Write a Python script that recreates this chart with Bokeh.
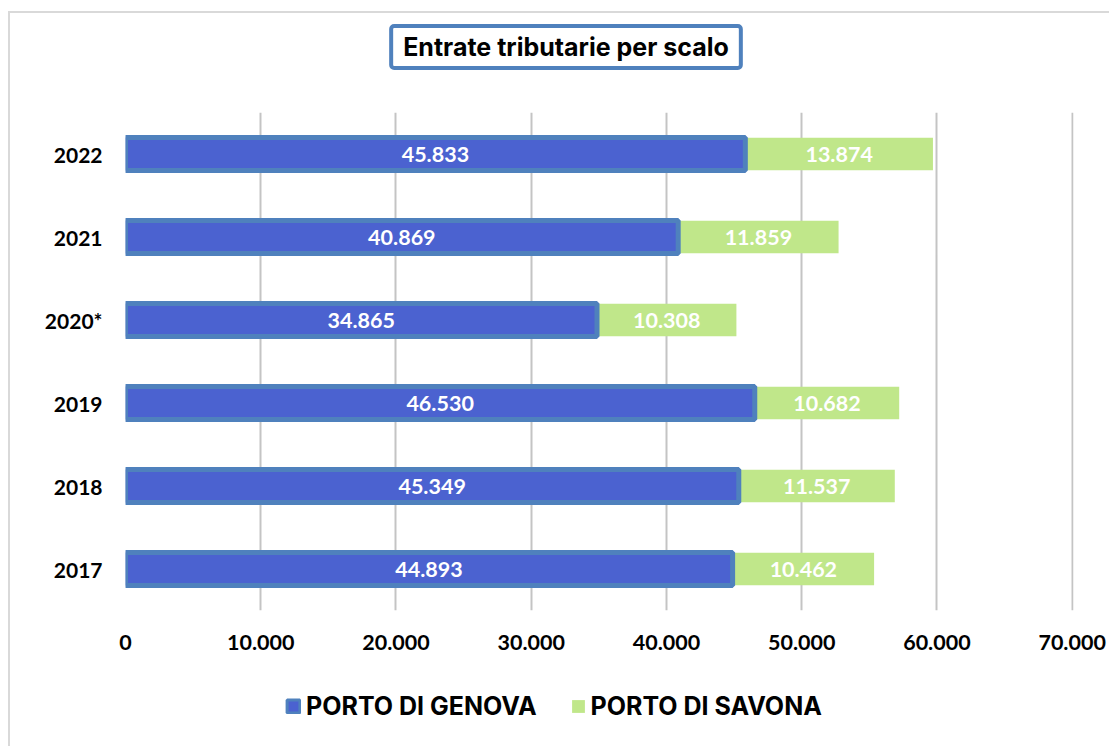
from bokeh.plotting import figure
from bokeh.layouts import column
from bokeh.models import (ColumnDataSource, Legend, LegendItem, FixedTicker, Label,
                          CustomJSTickFormatter, Range1d, FactorRange)
from bokeh.core.properties import value
from bokeh.embed import file_html
from bokeh.resources import INLINE

# ---- data ----
years = ["2017", "2018", "2019", "2020*", "2021", "2022"]
genova = [44893, 45349, 46530, 34865, 40869, 45833]
savona = [10462, 11537, 10682, 10308, 11859, 13874]
x_ticks = [0, 10000, 20000, 30000, 40000, 50000, 60000, 70000]
title_text = "Entrate tributarie per scalo"
series_names = ["PORTO DI GENOVA", "PORTO DI SAVONA"]


def it_fmt(v):
    return f"{v:,}".replace(",", ".")


total = [g + s for g, s in zip(genova, savona)]
src = ColumnDataSource(dict(
    year=years,
    genova=genova,
    savona=savona,
    total=total,
    gmid=[g / 2 for g in genova],
    smid=[g + s / 2 for g, s in zip(genova, savona)],
    glab=[it_fmt(v) for v in genova],
    slab=[it_fmt(v) for v in savona],
))

NUM_FONT = "Lato"
HEAD_FONT = "Inter"
GEN_FILL, GEN_LINE, SAV_FILL = "#4b62d0", "#4f81bd", "#c0e78a"
W = 1099


def blank_fig(h):
    f = figure(width=W, height=h, output_backend="svg", toolbar_location=None,
               x_axis_type=None, y_axis_type=None, x_range=Range1d(0, 1),
               y_range=Range1d(0, 1), min_border=0)
    f.outline_line_color = None
    f.grid.grid_line_color = None
    f.background_fill_color = "white"
    f.border_fill_color = "white"
    return f


# ---- title strip ----
t = blank_fig(80)
t.add_layout(Label(x=440.5, y=46.5, x_units="screen", y_units="screen",
                   text=title_text, text_align="center", text_baseline="middle",
                   text_font=HEAD_FONT, text_font_style="bold", text_font_size="25px",
                   text_color="black",
                   border_line_color=GEN_LINE, border_line_width=4,
                   background_fill_color="white",
                   padding=dict(left=12, right=12, top=6, bottom=6),
                   border_radius=3))

# ---- main chart ----
p = figure(width=W, height=572, output_backend="svg", toolbar_location=None,
           y_range=FactorRange(factors=years, range_padding=0),
           x_range=Range1d(0, 70100),
           min_border_left=115, min_border_right=36, min_border_top=19,
           min_border_bottom=55)
p.outline_line_color = None
p.background_fill_color = "white"
p.border_fill_color = "white"

r_sav = p.hbar(y="year", left="genova", right="total", height=0.39, source=src,
               fill_color=SAV_FILL, line_color=None)
r_gen = p.hbar(y="year", left=0, right="genova", height=0.4, source=src,
               fill_color=GEN_FILL, line_color=GEN_LINE, line_width=5)

for xcol, tcol in (("gmid", "glab"), ("smid", "slab")):
    p.text(x=xcol, y="year", text=tcol, source=src, text_align="center",
           text_baseline="middle", text_color="white", text_font=value(NUM_FONT),
           text_font_style="bold", text_font_size="21.5px")

p.xaxis.ticker = FixedTicker(ticks=x_ticks)
p.xaxis.formatter = CustomJSTickFormatter(
    code="return tick.toFixed(0).replace(/\\B(?=(\\d{3})+(?!\\d))/g, '.');")
for ax in (p.xaxis[0], p.yaxis[0]):
    ax.axis_line_color = None
    ax.major_tick_line_color = None
    ax.minor_tick_line_color = None
    ax.major_tick_out = 0
    ax.major_tick_in = 0
    ax.major_label_text_font = NUM_FONT
    ax.major_label_text_font_style = "bold"
    ax.major_label_text_color = "black"
p.xaxis.major_label_text_font_size = "21.5px"
p.yaxis.major_label_text_font_size = "21px"
p.xaxis.major_label_standoff = 24
p.yaxis.major_label_standoff = 23

p.ygrid.grid_line_color = None
p.xgrid.ticker = FixedTicker(ticks=x_ticks)
p.xgrid.grid_line_color = "#c4c4c4"
p.xgrid.grid_line_width = 2

# ---- legend strip ----
# legend swatches: renderers holding a single NaN bar (nothing is drawn in the plot)
nan = float("nan")
lg = blank_fig(81)
lg_gen = lg.hbar(y=[nan], left=[nan], right=[nan], height=0.4,
                 fill_color=GEN_FILL, line_color=GEN_LINE, line_width=3)
lg_sav = lg.hbar(y=[nan], left=[nan], right=[nan], height=0.4,
                 fill_color=SAV_FILL, line_color=None)
legend = Legend(items=[LegendItem(label=series_names[0], renderers=[lg_gen]),
                       LegendItem(label=series_names[1], renderers=[lg_sav])],
                location=(160, 25), orientation="horizontal",
                padding=0, margin=0, spacing=33, label_standoff=5,
                glyph_width=16, glyph_height=16,
                border_line_color=None, background_fill_alpha=0,
                label_text_font=HEAD_FONT, label_text_font_style="bold",
                label_text_font_size="25px", label_text_color="black",
                label_height=24)
lg.add_layout(legend)

page = column(t, p, lg, spacing=0,
              styles={"margin-left": "8px", "margin-top": "11px",
                      "border-left": "2px solid #d9d9d9",
                      "border-top": "2px solid #d9d9d9"})

open("out.html", "w").write(file_html(page, INLINE))
